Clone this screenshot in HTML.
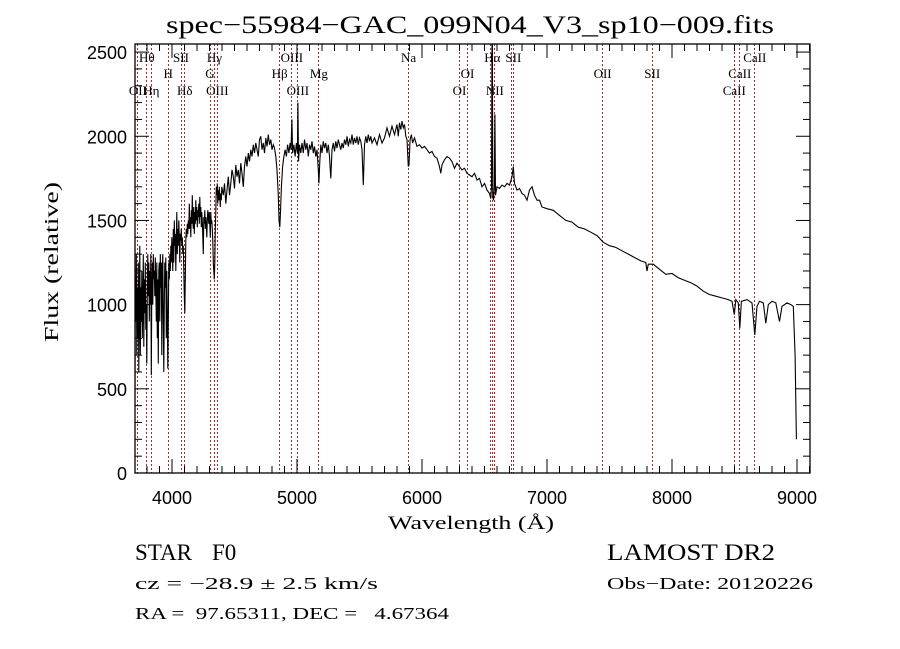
<!DOCTYPE html>
<html><head><meta charset="utf-8"><style>
html,body{margin:0;padding:0;background:#fff;width:900px;height:649px;overflow:hidden}
svg{display:block}
text{white-space:pre}
</style></head><body>
<svg id="chart" width="900" height="649" viewBox="0 0 900 649" xmlns="http://www.w3.org/2000/svg">
<rect width="900" height="649" fill="#fff"/>
<text x="470" y="33" text-anchor="middle" font-family="Liberation Serif, serif" font-size="25" textLength="608" lengthAdjust="spacingAndGlyphs">spec−55984−GAC_099N04_V3_sp10−009.fits</text>
<text x="471" y="529" text-anchor="middle" font-family="Liberation Serif, serif" font-size="19" textLength="166" lengthAdjust="spacingAndGlyphs">Wavelength (Å)</text>
<text transform="translate(58,262) rotate(-90)" text-anchor="middle" font-family="Liberation Serif, serif" font-size="20" textLength="160" lengthAdjust="spacingAndGlyphs">Flux (relative)</text>
<text x="135" y="560" font-family="Liberation Serif, serif" font-size="23">STAR</text>
<text x="212" y="560" font-family="Liberation Serif, serif" font-size="23">F0</text>
<text x="135" y="589" font-family="Liberation Serif, serif" font-size="17" textLength="243" lengthAdjust="spacingAndGlyphs">cz = −28.9 ± 2.5 km/s</text>
<text x="135" y="619" font-family="Liberation Serif, serif" font-size="17" textLength="314" lengthAdjust="spacingAndGlyphs">RA =&#160;&#160;97.65311, DEC =&#160;&#160;&#160;4.67364</text>
<text x="607" y="560" font-family="Liberation Serif, serif" font-size="23" textLength="168" lengthAdjust="spacingAndGlyphs">LAMOST DR2</text>
<text x="607" y="589" font-family="Liberation Serif, serif" font-size="17" textLength="206" lengthAdjust="spacingAndGlyphs">Obs−Date: 20120226</text>
<g id="plot"></g>
</svg>
<script>
const xTicks = [4000,5000,6000,7000,8000,9000];
const yTicks = [0,500,1000,1500,2000,2500];
const lineWl = [3727,3798,3835,3970,4072,4102,4304,4340,4363,4861,4959,5007,5175,5893,6300,6364,6548,6563,6583,6716,6731,7445,7842,8498,8542,8662];
const lineLabels = [
 ["Hθ",3798,0],["SII",4072,0],["Hγ",4340,0],["OIII",4959,0],["Na",5893,0],["Hα",6563,0],["SII",6731,0],["CaII",8662,0],
 ["H",3970,1],["G",4304,1],["Hβ",4861,1],["Mg",5175,1],["OI",6364,1],["OII",7445,1],["SII",7842,1],["CaII",8542,1],
 ["OII",3727,2],["Hη",3835,2],["Hδ",4102,2],["OIII",4363,2],["OIII",5007,2],["OI",6300,2],["NII",6583,2],["CaII",8498,2]
];
const wl = [3702,3706,3710,3714,3718,3722,3726,3730,3734,3738,3742,3746,3750,3754,3758,3762,3766,3770,3774,3778,3782,3786,3790,3794,3798,3802,3806,3810,3814,3818,3822,3826,3830,3834,3838,3842,3846,3850,3854,3858,3862,3866,3870,3874,3878,3882,3886,3890,3894,3898,3902,3906,3910,3914,3918,3922,3926,3930,3934,3938,3942,3946,3950,3954,3958,3962,3966,3970,3974,3978,3982,3986,3990,3994,3998,4002,4006,4010,4014,4018,4022,4026,4030,4034,4038,4042,4046,4050,4054,4058,4062,4066,4070,4074,4078,4082,4086,4090,4094,4098,4102,4106,4110,4114,4118,4122,4126,4130,4134,4138,4142,4146,4150,4154,4158,4162,4166,4170,4174,4178,4182,4186,4190,4194,4198,4202,4206,4210,4214,4218,4222,4226,4230,4234,4238,4242,4246,4250,4254,4258,4262,4266,4270,4274,4278,4282,4286,4290,4294,4298,4302,4306,4310,4314,4318,4322,4326,4330,4334,4338,4342,4346,4350,4354,4358,4362,4366,4370,4374,4378,4382,4386,4390,4394,4398,4410,4420,4430,4440,4450,4460,4470,4480,4490,4500,4510,4520,4530,4540,4550,4560,4570,4580,4590,4600,4610,4620,4630,4640,4650,4660,4670,4680,4690,4700,4710,4720,4730,4740,4750,4760,4770,4780,4790,4800,4810,4820,4830,4840,4850,4856,4862,4868,4875,4885,4895,4905,4915,4925,4935,4945,4952,4959,4965,4975,4985,4995,5003,5007,5012,5020,5030,5040,5050,5060,5070,5080,5090,5100,5110,5120,5130,5140,5150,5160,5170,5175,5182,5190,5200,5210,5220,5230,5240,5250,5260,5270,5280,5290,5300,5310,5320,5330,5340,5350,5360,5370,5380,5390,5400,5410,5420,5430,5440,5450,5460,5470,5480,5490,5500,5510,5520,5530,5540,5550,5560,5570,5580,5590,5600,5620,5640,5660,5680,5700,5720,5740,5760,5780,5800,5810,5820,5830,5840,5850,5860,5870,5880,5890,5896,5905,5915,5925,5940,5960,5980,6000,6020,6040,6060,6080,6100,6120,6140,6150,6160,6180,6200,6220,6240,6260,6280,6300,6320,6340,6360,6380,6400,6420,6440,6460,6480,6500,6520,6540,6550,6556,6560,6563,6566,6572,6578,6583,6588,6600,6620,6640,6660,6680,6700,6720,6730,6740,6760,6780,6800,6820,6840,6860,6880,6900,6920,6940,6960,7000,7050,7100,7150,7200,7250,7300,7350,7400,7450,7500,7550,7600,7650,7700,7750,7790,7800,7810,7850,7900,7950,8000,8050,8100,8150,8200,8250,8300,8350,8400,8450,8480,8498,8510,8530,8542,8555,8600,8640,8662,8680,8700,8730,8750,8770,8800,8830,8860,8880,8920,8950,8970,8985,8995];
const flux = [100,1150,900,1300,700,1100,800,1250,600,1000,1350,700,1100,900,1200,800,1000,1300,750,1150,950,1250,850,1000,650,1100,1300,1050,1250,900,1200,1000,1300,580,1100,1250,1000,1300,1150,1200,1050,1280,1100,900,1250,800,1150,650,1200,1250,900,1300,1100,1250,700,1200,1300,900,600,1000,1250,1100,1280,800,1200,950,620,900,1250,1150,1300,1200,1350,1250,1400,1300,1200,1450,1250,1500,1350,1420,1200,1380,1550,1300,1450,1350,1500,1400,1250,1420,1380,1450,1350,1400,1300,1350,1200,1050,950,1150,1380,1450,1400,1480,1420,1500,1450,1600,1450,1520,1400,1560,1480,1650,1500,1450,1580,1420,1550,1480,1620,1500,1580,1460,1560,1520,1600,1480,1640,1520,1580,1460,1550,1500,1400,1300,1520,1480,1560,1450,1520,1480,1400,1500,1560,1520,1480,1550,1480,1400,1550,1480,1500,1450,1380,1250,1200,1150,1250,1450,1550,1700,1650,1720,1600,1680,1620,1700,1640,1580,1660,1620,1700,1650,1720,1600,1680,1760,1650,1720,1800,1760,1690,1830,1760,1800,1720,1840,1780,1700,1820,1880,1820,1900,1850,1920,1880,1950,1900,1960,1920,1880,1980,2000,1920,1960,1900,1990,1940,2010,1950,1980,1920,1950,1930,1880,1800,1650,1500,1460,1550,1700,1820,1880,1920,1880,1950,1900,1960,1920,2100,1900,1950,1880,1960,1900,2200,1850,1950,1900,1960,1900,1980,1920,1960,1880,1950,1920,1970,1900,1940,1880,1920,1800,1720,1850,1950,1900,1970,1930,1960,1900,1950,1880,1750,1920,1960,1910,1970,1930,1980,1950,1920,1960,1930,1980,1950,2000,1940,1980,1960,2010,1950,1990,1960,2000,1950,1990,1970,1920,1710,1950,2000,1960,2010,1970,2000,1960,1990,1950,2010,1960,1990,2050,2000,2060,2010,2070,2000,2080,2040,2090,2050,2070,2000,1980,1820,1830,1980,2010,1960,1990,1940,1950,1930,1940,1920,1900,1910,1880,1870,1820,1780,1830,1860,1880,1870,1850,1810,1840,1820,1800,1810,1780,1770,1760,1780,1740,1750,1700,1720,1680,1660,1630,1700,2560,2560,1640,1620,1700,2130,1650,1700,1690,1710,1700,1720,1710,1760,1820,1720,1680,1690,1660,1650,1620,1680,1700,1650,1620,1620,1580,1570,1560,1530,1500,1490,1460,1450,1430,1410,1370,1350,1340,1320,1300,1280,1260,1250,1200,1240,1240,1210,1180,1185,1160,1145,1130,1110,1080,1060,1050,1040,1030,1020,940,1030,1010,860,1020,1030,1010,820,990,1020,1010,890,1000,1020,1010,900,990,1010,1000,990,700,200];

const L=135,R=810,T=44,B=473, XMIN=3704, XMAX=9104, YMIN=0, YMAX=2548;
const x = w => L + (w - XMIN) * (R - L) / (XMAX - XMIN);
const y = v => B - (v - YMIN) * (B - T) / (YMAX - YMIN);
const NS='http://www.w3.org/2000/svg';
const plot=document.getElementById('plot');
function mk(tag, attrs, parent){const e=document.createElementNS(NS,tag);for(const k in attrs)e.setAttribute(k,attrs[k]);(parent||plot).appendChild(e);return e;}

lineWl.forEach(w=>{
  const px=Math.floor(x(w))+0.5;
  const ln=mk('line',{x1:px,x2:px,y1:T,y2:B,stroke:'#a03030','stroke-width':1,'stroke-dasharray':'2,2'});
  
  
});
const rowY=[62,78,95];
lineLabels.forEach(l=>{
  const t=mk('text',{x:x(l[1]),y:rowY[l[2]],'text-anchor':'middle','font-family':'Liberation Serif, serif','font-size':13});
  t.textContent=l[0];
  
  
});

const cp=mk('clipPath',{id:'clip'});mk('rect',{x:L,y:T,width:R-L,height:B-T},cp);
let d='';
wl.forEach((w,i)=>{d+=(i?'L':'M')+x(w).toFixed(1)+','+y(flux[i]).toFixed(1);});
const sp=mk('path',{d:d,fill:'none',stroke:'#000','stroke-width':1.1,'clip-path':'url(#clip)'});



const box=mk('rect',{x:L,y:T,width:R-L,height:B-T,fill:'none',stroke:'#000','stroke-width':1.3});



for(let w=3800; w<=9100; w+=100){
  const major = w%1000===0; const len= major?14:7;
  mk('line',{x1:x(w),x2:x(w),y1:B,y2:B-len,stroke:'#000'});
  mk('line',{x1:x(w),x2:x(w),y1:T,y2:T+len,stroke:'#000'});
}
xTicks.forEach(w=>{
  const t=mk('text',{x:x(w),y:504,'text-anchor':'middle','font-family':'Liberation Sans, sans-serif','font-size':18});
  t.textContent=w;
  
  
});
for(let v=0; v<=2500; v+=100){
  const major=v%500===0; const len=major?14:7;
  mk('line',{x1:L,x2:L+len,y1:y(v),y2:y(v),stroke:'#000'});
  mk('line',{x1:R,x2:R-len,y1:y(v),y2:y(v),stroke:'#000'});
}
yTicks.forEach(v=>{
  const t=mk('text',{x:127,y:y(v)+7,'text-anchor':'end','font-family':'Liberation Sans, sans-serif','font-size':18});
  t.textContent=v;
  
  
});
</script>
</body></html>
